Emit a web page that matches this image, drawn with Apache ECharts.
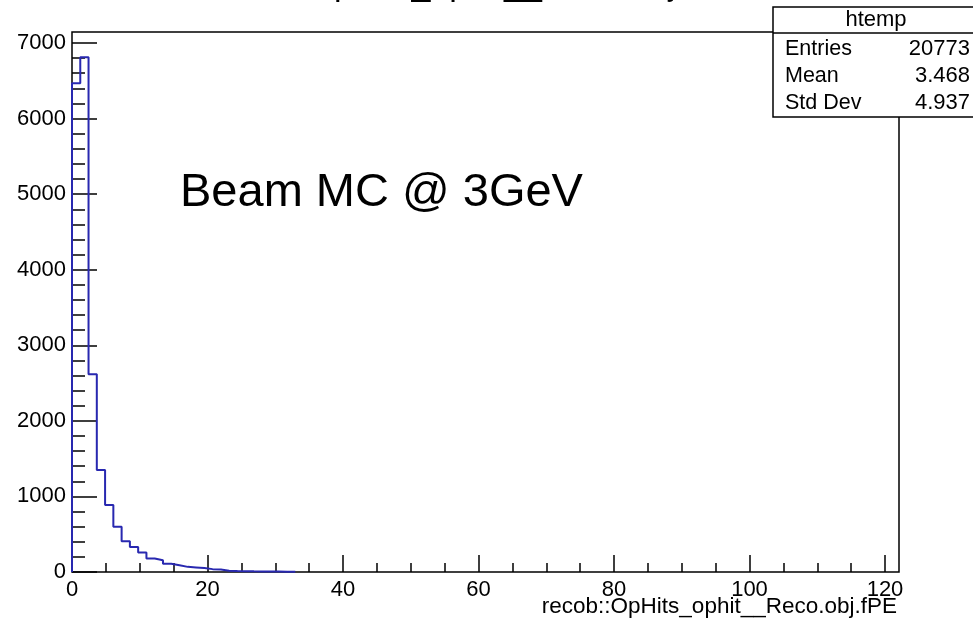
<!DOCTYPE html>
<html>
<head>
<meta charset="utf-8">
<script src="https://cdn.jsdelivr.net/npm/echarts@6/dist/echarts.min.js"></script>
<style>
  html, body { margin: 0; padding: 0; background: #fff; }
  #main { width: 973px; height: 622px; }
</style>
</head>
<body>
<div id="main"></div>
<script>
// histogram htemp : recob::OpHits_ophit__Reco.obj.fPE
const binWidth = 1.22;
const xMax = 122;
const yMax = 7145;
// counts per bin (bins beyond are ~0)
const binCounts = [6467, 6810, 2615, 1350, 885, 598, 408, 332, 258, 178, 155, 110, 90,
  68, 60, 52, 38, 32, 16, 13, 11, 9, 8, 6, 5, 4, 3];

const statsLabels = ['Entries', 'Mean', 'Std Dev'];
const statsValues = ['20773', '3.468', '4.937'];

const FONT = '"Liberation Sans", Arial, sans-serif';

// step outline points: left edge of each bin + closing edge
function histPoints() {
  const pts = [[0, 0]];
  binCounts.forEach((c, i) => pts.push([i * binWidth, c]));
  pts.push([binCounts.length * binWidth, 0]);
  return pts;
}

const chart = echarts.init(document.getElementById('main'), null, { renderer: 'canvas' });

// stats box texts
const statsGraphics = [];
statsLabels.forEach((lab, i) => {
  const y = 49 + i * 27;
  statsGraphics.push({
    type: 'text', x: 785, y: y, z: 20,
    style: { text: lab, font: '21.5px ' + FONT, fill: '#000', align: 'left', verticalAlign: 'middle' }
  });
  statsGraphics.push({
    type: 'text', x: 970, y: y, z: 20,
    style: { text: statsValues[i], font: '22px ' + FONT, fill: '#000', align: 'right', verticalAlign: 'middle' }
  });
});

const option = {
  animation: false,
  backgroundColor: '#fff',
  grid: [
    // data area / frame
    { left: 72, right: 74, top: 32, bottom: 50, show: true, borderColor: '#000', borderWidth: 1.5 },
    // axis ticks & labels (0..120, 0..7000)
    { left: 72, right: 88, top: 43, bottom: 50, show: false }
  ],
  xAxis: [
    {
      type: 'value', gridIndex: 0, min: 0, max: xMax,
      axisLine: { show: false }, axisTick: { show: false },
      axisLabel: { show: false }, splitLine: { show: false }
    },
    {
      type: 'value', gridIndex: 1, min: 0, max: 120, interval: 20,
      axisLine: { show: false },
      axisTick: { inside: true, length: 17, lineStyle: { color: '#000', width: 1.5 } },
      minorTick: { show: true, splitNumber: 4, length: 9, lineStyle: { color: '#000', width: 1.5 } },
      axisLabel: { color: '#000', fontSize: 22, fontFamily: FONT, margin: 7 },
      splitLine: { show: false }
    }
  ],
  yAxis: [
    {
      type: 'value', gridIndex: 0, min: 0, max: yMax,
      axisLine: { show: false }, axisTick: { show: false },
      axisLabel: { show: false }, splitLine: { show: false }
    },
    {
      type: 'value', gridIndex: 1, min: 0, max: 7000, interval: 1000,
      axisLine: { show: false },
      axisTick: { inside: true, length: 25, lineStyle: { color: '#000', width: 1.5 } },
      minorTick: { show: true, splitNumber: 5, length: 13, lineStyle: { color: '#000', width: 1.5 } },
      axisLabel: { color: '#000', fontSize: 22, fontFamily: FONT, margin: 6,
        formatter: v => String(v) },
      splitLine: { show: false }
    }
  ],
  series: [
    {
      type: 'line',
      xAxisIndex: 0, yAxisIndex: 0,
      step: 'end',
      symbol: 'none',
      lineStyle: { color: '#2828b0', width: 2 },
      data: histPoints()
    }
  ],
  graphic: [
    {
      type: 'text', x: 472, y: -14,
      style: { text: 'recob::OpHits_ophit__Reco.obj.fPE', font: '34px ' + FONT, fill: '#000',
        align: 'center', verticalAlign: 'middle' }
    },
    {
      type: 'text', x: 180, y: 193,
      style: { text: 'Beam MC @ 3GeV', font: '47px ' + FONT, fill: '#000',
        align: 'left', verticalAlign: 'middle' }
    },
    {
      type: 'text', x: 897, y: 607,
      style: { text: 'recob::OpHits_ophit__Reco.obj.fPE', font: '22.5px ' + FONT, fill: '#000',
        align: 'right', verticalAlign: 'middle' }
    },
    // stats box
    {
      type: 'rect', z: 10,
      shape: { x: 773, y: 7, width: 212, height: 110 },
      style: { fill: '#fff', stroke: '#000', lineWidth: 1.5 }
    },
    {
      type: 'line', z: 11,
      shape: { x1: 773, y1: 33, x2: 985, y2: 33 },
      style: { stroke: '#000', lineWidth: 1.5 }
    },
    {
      type: 'text', x: 876, y: 20, z: 20,
      style: { text: 'htemp', font: '22px ' + FONT, fill: '#000', align: 'center', verticalAlign: 'middle' }
    }
  ].concat(statsGraphics)
};

chart.setOption(option);
</script>
</body>
</html>
